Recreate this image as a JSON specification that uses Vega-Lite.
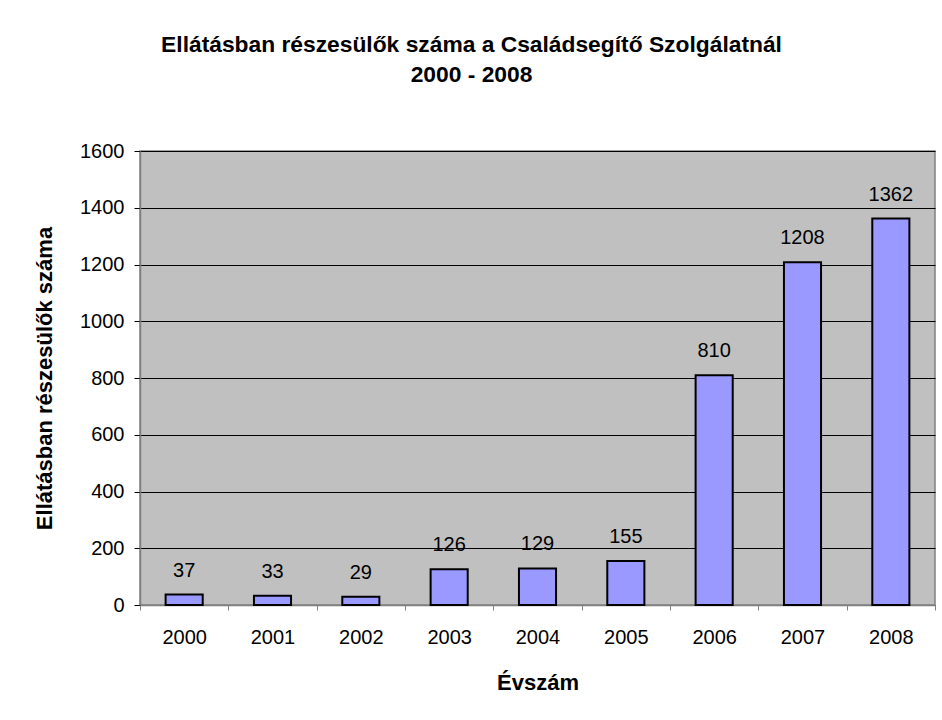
{
  "$schema": "https://vega.github.io/schema/vega-lite/v6.json",
  "width": 795,
  "height": 454,
  "autosize": {"type": "none"},
  "padding": {"left": 140, "top": 151, "right": 7, "bottom": 115},
  "background": "white",
  "title": {
    "text": ["Ellátásban részesülők száma a Családsegítő Szolgálatnál", "2000 - 2008"],
    "font": "Liberation Sans",
    "fontSize": 22.8,
    "fontWeight": "bold",
    "color": "black",
    "lineHeight": 30,
    "anchor": "middle",
    "dx": -66,
    "offset": 54
  },
  "config": {
    "view": {"fill": "#C0C0C0", "stroke": "#808080", "strokeWidth": 1.5},
    "font": "Liberation Sans"
  },
  "data": {
    "values": [
      {"ev": "2000", "szam": 37},
      {"ev": "2001", "szam": 33},
      {"ev": "2002", "szam": 29},
      {"ev": "2003", "szam": 126},
      {"ev": "2004", "szam": 129},
      {"ev": "2005", "szam": 155},
      {"ev": "2006", "szam": 810},
      {"ev": "2007", "szam": 1208},
      {"ev": "2008", "szam": 1362}
    ]
  },
  "encoding": {
    "x": {
      "field": "ev",
      "type": "nominal",
      "sort": "ascending",
      "scale": {"paddingInner": 0, "paddingOuter": 0},
      "axis": {
        "title": "Évszám",
        "titleFont": "Liberation Sans",
        "titleFontSize": 22,
        "titleFontWeight": "bold",
        "titleColor": "black",
        "titlePadding": 25,
        "labelAngle": 0,
        "labelFont": "Liberation Sans",
        "labelFontSize": 20,
        "labelColor": "black",
        "labelPadding": 17,
        "tickBand": "extent",
        "tickColor": "#808080",
        "tickSize": 5,
        "domainColor": "#808080",
        "domainWidth": 1.5,
        "grid": false
      }
    },
    "y": {
      "field": "szam",
      "type": "quantitative",
      "scale": {"domain": [0, 1600], "nice": false},
      "axis": {
        "title": "Ellátásban részesülők száma",
        "titleFont": "Liberation Sans",
        "titleFontSize": 22,
        "titleFontWeight": "bold",
        "titleColor": "black",
        "titlePadding": 23,
        "values": [0, 200, 400, 600, 800, 1000, 1200, 1400, 1600],
        "format": "d",
        "labelFont": "Liberation Sans",
        "labelFontSize": 20,
        "labelColor": "black",
        "labelPadding": 10,
        "tickColor": "black",
        "tickSize": 6,
        "domainColor": "#808080",
        "domainWidth": 1.5,
        "grid": true,
        "gridColor": "black",
        "gridWidth": 1,
        "gridOpacity": 1
      }
    }
  },
  "layer": [
    {
      "mark": {"type": "bar", "width": {"band": 0.42}, "fill": "#9999FF", "stroke": "black", "strokeWidth": 2}
    },
    {
      "mark": {"type": "text", "baseline": "alphabetic", "dy": -18, "font": "Liberation Sans", "fontSize": 20, "color": "black"},
      "encoding": {"text": {"field": "szam", "type": "quantitative"}}
    }
  ]
}
